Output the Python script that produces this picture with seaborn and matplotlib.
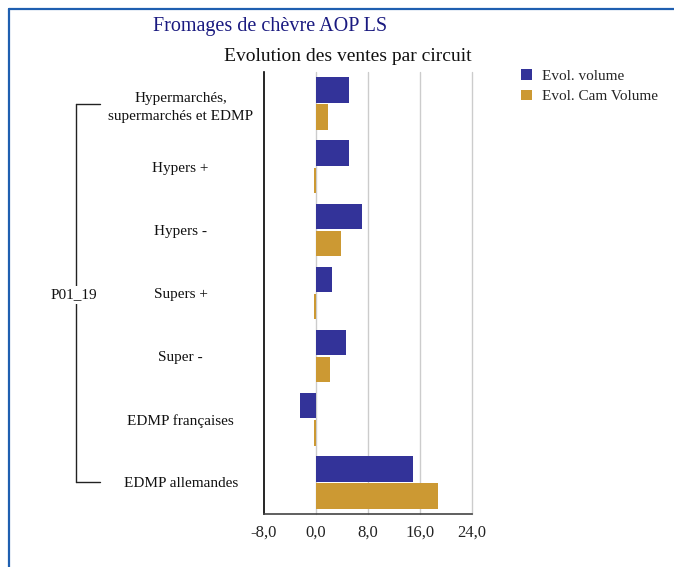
import matplotlib
matplotlib.use("Agg")
import matplotlib.pyplot as plt
import matplotlib.transforms as mtransforms
from matplotlib.lines import Line2D
import seaborn as sns
import pandas as pd

# ---- data ----
categories = ["Hypermarchés,\nsupermarchés et EDMP", "Hypers +", "Hypers -",
              "Supers +", "Super -", "EDMP françaises", "EDMP allemandes"]
series_names = ["Evol. volume", "Evol. Cam Volume"]
evol_volume = [5.1, 5.1, 7.1, 2.5, 4.6, -2.5, 14.9]
evol_cam_volume = [1.8, -0.3, 3.8, -0.3, 2.1, -0.3, 18.8]
x_ticks = [-8, 0, 8, 16, 24]
x_tick_labels = ["-8,0", "0,0", "8,0", "16,0", "24,0"]
group_label = "P01_19"
title = "Fromages de chèvre AOP LS"
subtitle = "Evolution des ventes par circuit"

colors = ["#333399", "#CC9933"]

df = pd.DataFrame({
    "circuit": categories * 2,
    "serie": [series_names[0]] * len(categories) + [series_names[1]] * len(categories),
    "valeur": evol_volume + evol_cam_volume,
})

sns.set_theme(style="white")
plt.rcParams["font.family"] = ["Liberation Serif", "DejaVu Serif"]

W, H = 674, 567
fig = plt.figure(figsize=(W / 100, H / 100), dpi=100)
ax = fig.add_axes([264 / W, 1 - 514 / H, (472 - 264) / W, (514 - 72) / H])

sns.barplot(data=df, y="circuit", x="valeur", hue="serie", orient="h",
            palette=colors, width=0.86, gap=0.06, saturation=1,
            order=categories, hue_order=series_names, ax=ax, zorder=3,
            linewidth=0, edgecolor="none")

ax.set_xlim(x_ticks[0], x_ticks[-1])
ax.set_ylim(len(categories) - 0.5, -0.5)
ax.set_xticks(x_ticks)
ax.set_xticklabels(x_tick_labels, fontsize=12, color="#222222")
ax.set_xlabel("")
ax.set_ylabel("")
for xv in x_ticks[1:]:
    ax.axvline(xv, color="#cccccc", lw=1.0, zorder=1, clip_on=False)
ax.tick_params(axis="x", length=0, pad=8)
ax.tick_params(axis="y", length=0, pad=60)
for lbl in ax.get_yticklabels():
    lbl.set_ha("center")
    lbl.set_multialignment("center")
    lbl.set_linespacing(1.45)
    lbl.set_fontsize(11)
    lbl.set_color("#111111")

for s in ["top", "right"]:
    ax.spines[s].set_visible(False)
ax.spines["left"].set_color("black")
ax.spines["left"].set_linewidth(1.2)
ax.spines["bottom"].set_color("#444444")
ax.spines["bottom"].set_linewidth(1.2)

# legend
handles, labels = ax.get_legend_handles_labels()
ax.get_legend().remove()
fig.legend(handles, labels, loc="upper left", bbox_to_anchor=(515 / W, 1 - 63 / H),
           frameon=False, fontsize=11, handlelength=0.7, handleheight=0.7,
           handletextpad=0.7, labelspacing=0.45, borderaxespad=0)

# titles
fig.text(270 / W, 1 - 27 / H, title, ha="center", va="center", fontsize=14.5, color="#1a1a80")
fig.text(348 / W, 1 - 57 / H, subtitle, ha="center", va="center", fontsize=14, color="#111111")

# bracket for group label
tr = mtransforms.blended_transform_factory(fig.transFigure, ax.transData)
x0, x1 = 76 / W, 100 / W
top_c, bot_c = 0, len(categories) - 1
for seg in [([x0, x0], [top_c, bot_c]), ([x0, x1], [top_c, top_c]), ([x0, x1], [bot_c, bot_c])]:
    fig.add_artist(Line2D(seg[0], seg[1], transform=tr, color="#222222", lw=1.0))
fig.text(74 / W, 1 - 295 / H, group_label, ha="center", va="center", fontsize=11,
         color="#111111", bbox=dict(facecolor="white", edgecolor="none", pad=1.5))

# frame border
border = "#1f5fb0"
fig.add_artist(Line2D([8.5 / W, 8.5 / W], [0, 1 - 8.5 / H], transform=fig.transFigure, color=border, lw=1.6))
fig.add_artist(Line2D([8.5 / W, 1], [1 - 8.5 / H, 1 - 8.5 / H], transform=fig.transFigure, color=border, lw=1.6))

fig.savefig("out.png", dpi=100)
